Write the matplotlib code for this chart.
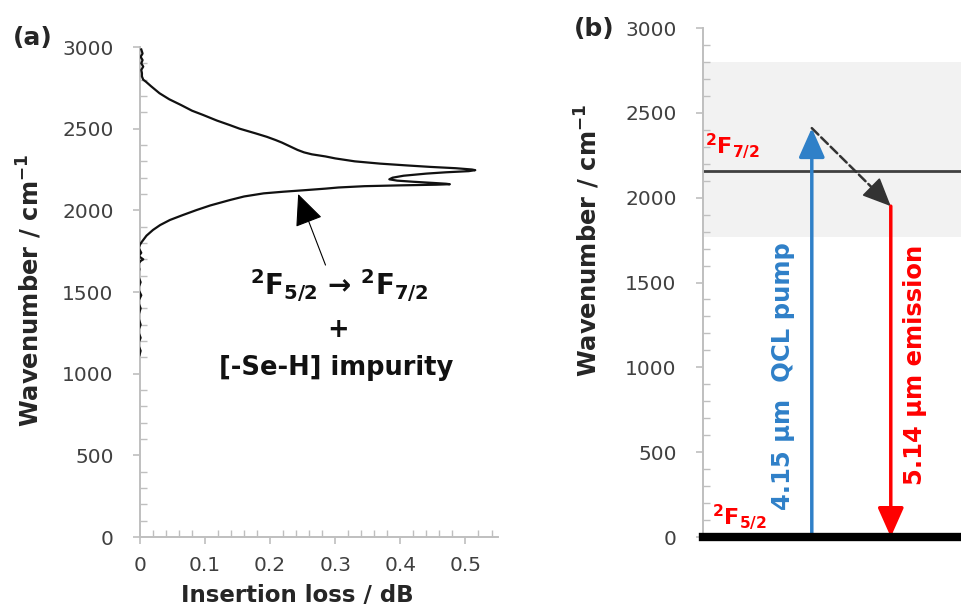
import matplotlib

matplotlib.use("Agg")
import matplotlib.pyplot as plt
from matplotlib.ticker import FuncFormatter, MultipleLocator

# panel (a): insertion loss spectrum (cm-1, dB)
wavenumber = [
    2985, 2960, 2940, 2920, 2900, 2880, 2860, 2840, 2820, 2800,
    2788, 2760, 2717, 2680, 2645, 2610, 2584, 2550, 2522, 2500,
    2472, 2450, 2431, 2415, 2400, 2385, 2370, 2355, 2343, 2330,
    2318, 2300, 2286, 2275, 2266, 2258, 2250, 2246, 2240, 2233,
    2225, 2212, 2200, 2190, 2182, 2175, 2168, 2163, 2160, 2157,
    2153, 2148, 2140, 2133, 2124, 2114, 2104, 2085, 2063, 2030,
    2002, 1970, 1941, 1910, 1880, 1845, 1808, 1790, 1770, 1740,
    1720, 1700, 1690, 1670, 1640, 1600, 1560, 1520, 1480, 1440,
    1400, 1350, 1300, 1260, 1220, 1180, 1140, 1110, 1100,
]
insertion_loss = [
    0.002, 0.004, 0.001, 0.004, 0.002, 0.005, 0.002, 0.003, 0.003, 0.005,
    0.009, 0.017, 0.030, 0.045, 0.063, 0.080, 0.097, 0.118, 0.138, 0.153,
    0.177, 0.195, 0.208, 0.218, 0.226, 0.234, 0.242, 0.252, 0.264, 0.285,
    0.300, 0.330, 0.369, 0.410, 0.446, 0.485, 0.510, 0.515, 0.505, 0.470,
    0.440, 0.405, 0.388, 0.383, 0.395, 0.420, 0.450, 0.470, 0.476, 0.455,
    0.400, 0.345, 0.305, 0.285, 0.255, 0.220, 0.190, 0.160, 0.138, 0.108,
    0.087, 0.065, 0.046, 0.031, 0.020, 0.010, 0.003, 0.000, -0.002, 0.002,
    -0.002, 0.005, 0.001, -0.003, -0.001, -0.003, 0.001, -0.003, 0.002, -0.003,
    0.001, -0.003, 0.001, -0.003, 0.001, -0.003, 0.001, -0.001, -0.003,
]

# panel (b): energy-level diagram (cm-1)
level_f72 = 2160
band_low, band_high = 1770, 2800
pump_top = 2410
emission_top = 1950

AXIS_GREY = "#bfbfbf"
TICK_TEXT = "#404040"
BLUE = "#2f80c8"
RED = "#ff0000"

plt.rcParams["font.family"] = ["DejaVu Sans"]
plt.rcParams["mathtext.fontset"] = "dejavusans"

fig = plt.figure(figsize=(9.62, 6.09), dpi=100)
ax_a = fig.add_axes([0.1455, 0.1182, 0.3722, 0.8046])
ax_b = fig.add_axes([0.7308, 0.1182, 0.2692, 0.8358])


def excel_axis(ax):
    ax.spines[["top", "right"]].set_visible(False)
    for side in ("left", "bottom"):
        ax.spines[side].set_color(AXIS_GREY)
        ax.spines[side].set_linewidth(1.4)
    ax.set_ylim(0, 3000)
    ax.yaxis.set_major_locator(MultipleLocator(500))
    ax.yaxis.set_minor_locator(MultipleLocator(100))
    ax.tick_params(which="major", direction="out", length=5, width=1.2,
                   color=AXIS_GREY, labelsize=14.5, labelcolor=TICK_TEXT)
    ax.tick_params(which="minor", direction="in", length=5, width=1.0,
                   color=AXIS_GREY)
    ax.tick_params(axis="y", which="major", pad=14)


# ---- (a) spectrum
excel_axis(ax_a)
ax_a.set_xlim(0, 0.55)
ax_a.xaxis.set_major_locator(MultipleLocator(0.1))
ax_a.xaxis.set_minor_locator(MultipleLocator(0.02))
ax_a.xaxis.set_major_formatter(FuncFormatter(lambda v, _: f"{v:g}"))
ax_a.tick_params(axis="x", which="major", pad=9)
ax_a.plot(insertion_loss, wavenumber, color="#111111", lw=1.6, zorder=3)

ax_a.annotate("", xy=(0.243, 2100), xytext=(0.285, 1665),
              arrowprops=dict(arrowstyle="-|>,head_length=1.0,head_width=0.45",
                              color="black", lw=0.8, mutation_scale=20,
                              shrinkA=0, shrinkB=0))
note = dict(ha="center", va="baseline", fontsize=18.5, fontweight="bold", color="#111111")
ax_a.text(0.306, 1482, r"$\mathbf{{}^{2}F_{5/2}}$ → $\mathbf{{}^{2}F_{7/2}}$",
          **dict(note, fontsize=20))
ax_a.text(0.305, 1267, "+", **dict(note, va="center"))
ax_a.text(0.302, 992, "[-Se-H] impurity", **note)

# ---- (b) levels
excel_axis(ax_b)
ax_b.set_xlim(0, 1)
ax_b.spines["bottom"].set_visible(False)
ax_b.tick_params(axis="x", which="both", bottom=False, labelbottom=False)
ax_b.axhspan(band_low, band_high, color="#f2f2f2", lw=0, zorder=0)
ax_b.axhline(level_f72, color="#404040", lw=2)
ax_b.axhline(0, color="black", lw=6, clip_on=False, zorder=4)

pump_x, emission_x = 0.42, 0.725
head = "-|>,head_length=0.9,head_width=0.4"
ax_b.annotate("", xy=(pump_x, pump_top), xytext=(pump_x, 0),
              arrowprops=dict(arrowstyle=head, color=BLUE, lw=2.5,
                              mutation_scale=20, shrinkA=0, shrinkB=0))
# relaxation: dashed shaft plus a solid head
ax_b.annotate("", xy=(emission_x, emission_top), xytext=(pump_x, pump_top),
              arrowprops=dict(arrowstyle="-", color="#333333", lw=1.8, ls="--",
                              shrinkA=0, shrinkB=12))
back = 0.12
ax_b.annotate("", xy=(emission_x, emission_top),
              xytext=(emission_x - back * (emission_x - pump_x),
                      emission_top + back * (pump_top - emission_top)),
              arrowprops=dict(arrowstyle=head, color="#333333", lw=1.2,
                              mutation_scale=20, shrinkA=0, shrinkB=0))
ax_b.annotate("", xy=(emission_x, 0), xytext=(emission_x, emission_top),
              arrowprops=dict(arrowstyle=head, color=RED, lw=2.5,
                              mutation_scale=20, shrinkA=0, shrinkB=0))

ax_b.text(0.008, 2300, r"$\mathbf{{}^{2}F_{7/2}}$", color=RED, fontsize=16,
          ha="left", va="center")
ax_b.text(0.035, 115, r"$\mathbf{{}^{2}F_{5/2}}$", color=RED, fontsize=16,
          ha="left", va="center")
ax_b.text(0.31, 949, "4.15 µm  QCL pump", rotation=90, color=BLUE, fontsize=17.5,
          fontweight="bold", ha="center", va="center")
ax_b.text(0.82, 1013, "5.14 µm emission", rotation=90, color=RED, fontsize=17.5,
          fontweight="bold", ha="center", va="center")

# ---- labels
label = dict(fontsize=17.5, fontweight="bold", color="#262626", ha="center", va="center")
fig.text(30 / 962, 1 - 290 / 609, r"Wavenumber / cm$^{\mathbf{-1}}$", rotation=90, **label)
fig.text(588 / 962, 1 - 240 / 609, r"Wavenumber / cm$^{\mathbf{-1}}$", rotation=90, **label)
fig.text(297 / 962, 1 - 602 / 609, "Insertion loss / dB",
         **dict(label, fontsize=16.5, va="baseline"))
fig.text(33 / 962, 1 - 38 / 609, "(a)", fontsize=18, fontweight="bold",
         color="#262626", ha="center", va="center")
fig.text(594 / 962, 1 - 29 / 609, "(b)", fontsize=18, fontweight="bold",
         color="#262626", ha="center", va="center")

fig.savefig("out.png", dpi=100)
